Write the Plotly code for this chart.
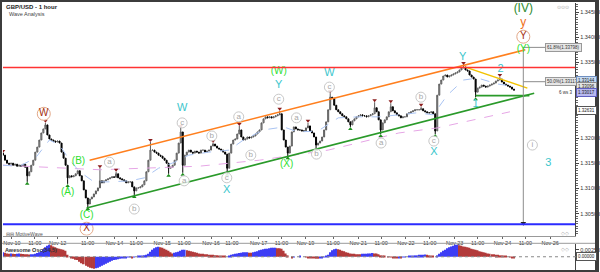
import plotly.graph_objects as go

# ---------------- data ----------------
closes = [
    1.3166, 1.3156, 1.3150, 1.3148, 1.3150, 1.3146, 1.3148, 1.3144, 1.3146, 1.3144,
    1.3148, 1.3142, 1.3125, 1.3133, 1.3146, 1.3156, 1.3172, 1.3182, 1.3196, 1.3210,
    1.3218, 1.3226, 1.3206, 1.3198, 1.3196, 1.3194, 1.3192, 1.3194, 1.3190, 1.3172,
    1.3160, 1.3146, 1.3121, 1.3125, 1.3123, 1.3125, 1.3129, 1.3135, 1.3125, 1.3115,
    1.3097, 1.3081, 1.3069, 1.3079, 1.3083, 1.3089, 1.3095, 1.3101, 1.3115, 1.3111,
    1.3115, 1.3117, 1.3119, 1.3121, 1.3123, 1.3122, 1.3129, 1.3121, 1.3119, 1.3117,
    1.3115, 1.3111, 1.3113, 1.3113, 1.3103, 1.3095, 1.3101, 1.3101, 1.3103, 1.3107,
    1.3115, 1.3133, 1.3156, 1.3176, 1.3176, 1.3172, 1.3170, 1.3166, 1.3164, 1.3160,
    1.3156, 1.3150, 1.3140, 1.3142, 1.3146, 1.3156, 1.3170, 1.3190, 1.3212, 1.3146,
    1.3166, 1.3172, 1.3176, 1.3172, 1.3170, 1.3174, 1.3172, 1.3170, 1.3176, 1.3176,
    1.3172, 1.3174, 1.3176, 1.3184, 1.3188, 1.3184, 1.3180, 1.3178, 1.3176, 1.3172,
    1.3168, 1.3140, 1.3170, 1.3188, 1.3196, 1.3198, 1.3208, 1.3216, 1.3202, 1.3196,
    1.3198, 1.3202, 1.3200, 1.3202, 1.3204, 1.3208, 1.3212, 1.3216, 1.3230, 1.3238,
    1.3242, 1.3240, 1.3242, 1.3240, 1.3242, 1.3244, 1.3246, 1.3248, 1.3216, 1.3196,
    1.3182, 1.3170, 1.3184, 1.3212, 1.3222, 1.3218, 1.3216, 1.3216, 1.3214, 1.3214,
    1.3220, 1.3224, 1.3214, 1.3210, 1.3202, 1.3186, 1.3190, 1.3194, 1.3202, 1.3216,
    1.3232, 1.3256, 1.3281, 1.3279, 1.3265, 1.3256, 1.3252, 1.3248, 1.3244, 1.3242,
    1.3238, 1.3232, 1.3226, 1.3234, 1.3238, 1.3242, 1.3244, 1.3246, 1.3244, 1.3244,
    1.3242, 1.3244, 1.3246, 1.3248, 1.3260, 1.3252, 1.3236, 1.3216, 1.3230, 1.3236,
    1.3242, 1.3252, 1.3262, 1.3254, 1.3250, 1.3246, 1.3244, 1.3240, 1.3242, 1.3242,
    1.3248, 1.3250, 1.3252, 1.3254, 1.3256, 1.3256, 1.3256, 1.3258, 1.3254, 1.3252,
    1.3250, 1.3250, 1.3252, 1.3248, 1.3214, 1.3285, 1.3307, 1.3315, 1.3323, 1.3325,
    1.3321, 1.3323, 1.3325, 1.3327, 1.3329, 1.3331, 1.3335, 1.3339, 1.3341, 1.3335,
    1.3333, 1.3325, 1.3321, 1.3317, 1.3291, 1.3299, 1.3301, 1.3305, 1.3303, 1.3301,
    1.3303, 1.3305, 1.3307, 1.3309, 1.3313, 1.3315, 1.3317, 1.3311, 1.3307, 1.3305,
    1.3303, 1.3301, 1.3297, 1.3295,
]
first_open = 1.3170

pivot_highs = {0: 1.3170, 21: 1.3230, 48: 1.3140, 56: 1.3133, 73: 1.3192, 88: 1.3220,
               104: 1.3190, 117: 1.3224, 137: 1.3254, 151: 1.3230, 162: 1.3289,
               184: 1.3271, 192: 1.3269, 207: 1.3262, 228: 1.3345, 246: 1.3321}
pivot_lows = {12: 1.3113, 32: 1.3109, 42: 1.3063, 65: 1.3087, 82: 1.3129, 89: 1.3131,
              111: 1.3131, 141: 1.3164, 155: 1.3180, 172: 1.3222, 187: 1.3208,
              214: 1.3208, 234: 1.3281}

ao = [
    0.0016, 0.0014, 0.0012, 0.0011, 0.0012, 0.0011, 0.0010, 0.0011, 0.0012, 0.0011,
    0.0010, 0.0009, 0.0009, 0.0008, 0.0009, 0.0009, 0.0011, 0.0013, 0.0016, 0.0020,
    0.0027, 0.0034, 0.0039, 0.0043, 0.0041, 0.0037, 0.0034, 0.0030, 0.0029, 0.0027,
    0.0025, 0.0021, 0.0007, 0.0000, -0.0004, -0.0007, -0.0011, -0.0012, -0.0018, -0.0023,
    -0.0027, -0.0032, -0.0036, -0.0039, -0.0041, -0.0043, -0.0041, -0.0039, -0.0036, -0.0032,
    -0.0029, -0.0025, -0.0021, -0.0018, -0.0014, -0.0012, -0.0011, -0.0009, -0.0007, -0.0005,
    -0.0004, -0.0004, -0.0002, -0.0002, -0.0003, -0.0002, 0.0000, 0.0002, 0.0002, 0.0004,
    0.0005, 0.0007, 0.0011, 0.0018, 0.0025, 0.0030, 0.0034, 0.0036, 0.0034, 0.0032,
    0.0029, 0.0025, 0.0021, 0.0016, 0.0012, 0.0014, 0.0016, 0.0018, 0.0021, 0.0025,
    0.0025, 0.0023, 0.0021, 0.0020, 0.0018, 0.0016, 0.0014, 0.0012, 0.0011, 0.0011,
    0.0009, 0.0009, 0.0007, 0.0007, 0.0007, 0.0005, 0.0005, 0.0004, 0.0004, 0.0002,
    0.0002, 0.0000, 0.0004, 0.0007, 0.0009, 0.0011, 0.0012, 0.0013, 0.0014, 0.0016,
    0.0016, 0.0016, 0.0014, 0.0014, 0.0016, 0.0018, 0.0020, 0.0023, 0.0025, 0.0027,
    0.0029, 0.0029, 0.0030, 0.0032, 0.0032, 0.0032, 0.0030, 0.0030, 0.0029, 0.0021,
    0.0012, 0.0005, 0.0000, -0.0004, -0.0002, 0.0000, 0.0000, 0.0002, 0.0000, 0.0000,
    -0.0002, -0.0004, -0.0004, -0.0005, -0.0005, -0.0007, -0.0007, -0.0005, -0.0004, -0.0002,
    0.0002, 0.0007, 0.0016, 0.0023, 0.0027, 0.0029, 0.0027, 0.0025, 0.0021, 0.0020,
    0.0016, 0.0014, 0.0012, 0.0011, 0.0011, 0.0009, 0.0009, 0.0009, 0.0011, 0.0011,
    0.0011, 0.0012, 0.0012, 0.0013, 0.0012, 0.0012, 0.0009, 0.0005, 0.0004, 0.0002,
    0.0000, -0.0002, -0.0002, -0.0004, -0.0004, -0.0004, -0.0003, -0.0004, -0.0002, -0.0002,
    0.0000, 0.0002, 0.0004, 0.0004, 0.0005, 0.0005, 0.0007, 0.0007, 0.0007, 0.0008,
    0.0007, 0.0005, 0.0004, 0.0002, 0.0000, 0.0005, 0.0011, 0.0016, 0.0021, 0.0025,
    0.0030, 0.0034, 0.0037, 0.0039, 0.0043, 0.0043, 0.0041, 0.0039, 0.0037, 0.0036,
    0.0034, 0.0032, 0.0029, 0.0027, 0.0025, 0.0023, 0.0020, 0.0018, 0.0016, 0.0014,
    0.0012, 0.0011, 0.0009, 0.0009, 0.0007, 0.0007, 0.0005, 0.0005, 0.0004, 0.0002,
    0.0000, -0.0002, -0.0004, -0.0005,
]

tick_pos = [4.4, 15.8, 27.1, 41.9, 55.2, 66.0, 78.8, 89.7, 103.0, 113.3, 126.6, 137.9,
            149.8, 163.5, 175.9, 187.2, 199.5, 211.3, 223.6, 235.0, 247.3, 258.6, 270.9]
tick_text = ["Nov 10", "11:00", "Nov 12", "11:00", "Nov 14", "11:00", "Nov 15", "11:00",
             "Nov 16", "11:00", "Nov 17", "11:00", "Nov 19", "11:00", "Nov 21", "11:00",
             "Nov 22", "11:00", "Nov 23", "11:00", "Nov 24", "11:00", "Nov 26"]

price_tick_vals = [1.305, 1.310, 1.315, 1.320, 1.325, 1.330, 1.335, 1.340, 1.345]
# 1.32500 and 1.33000 are covered by the price boxes in the reference
price_tick_text = ["1.30500", "1.31000", "1.31500", "1.32000", "", "", "1.33500", "1.34000", "1.34500"]

# moving averages (sparse readings)
ma_fast_x = [0, 8, 16, 23, 28, 33, 38, 45, 53, 63, 70, 77, 85, 92, 102, 112, 119, 129, 139,
             146, 156, 166, 176, 186, 196, 205, 213, 220, 228, 235, 245, 252]
ma_fast_y = [1.3146, 1.3144, 1.3160, 1.3196, 1.3186, 1.3156, 1.3133, 1.3113, 1.3113, 1.3115,
             1.3121, 1.3140, 1.3152, 1.3166, 1.3172, 1.3176, 1.3196, 1.3216, 1.3222, 1.3212,
             1.3214, 1.3240, 1.3242, 1.3242, 1.3246, 1.3250, 1.3246, 1.3285, 1.3315, 1.3319,
             1.3307, 1.3303]
ma_slow_x = [0, 48, 97, 127, 161, 196, 215, 251]
ma_slow_y = [1.3146, 1.3137, 1.3144, 1.3156, 1.3176, 1.3210, 1.3220, 1.3252]

# wave structure lines
orange_x, orange_y = [42.9, 258.6], [1.3156, 1.3375]
green_x, green_y = [41.4, 263.0], [1.3061, 1.3289]
wave1_x, wave1_y = [234.0, 260.6], [1.3284, 1.3284]
yellow_x, yellow_y = [228.6, 259.6], [1.3341, 1.3299]
red_level = 1.3340
blue_level = 1.3029
proj_x, proj_top, proj_bottom = 257.6, 1.33798, 1.3031
fib_levels = [1.33798, 1.33117]
fib_text = ["61.8%(1.33798)", "50.0%(1.33117)"]
fib_end = 268.5

grey_labels = [(52.7, 1.3152, "a"), (65.0, 1.3059, "b"), (88.7, 1.3230, "c"), (89.7, 1.3115, "a"),
               (103.4, 1.3204, "b"), (110.8, 1.3121, "c"), (116.7, 1.3242, "a"), (122.7, 1.3166, "b"),
               (136.5, 1.3277, "c"), (145.3, 1.3240, "a"), (155.2, 1.3168, "b"), (161.6, 1.3301, "c"),
               (187.2, 1.3190, "a"), (206.9, 1.3281, "b"), (213.3, 1.3194, "c"), (262.1, 1.3186, "i")]
cyan_labels = [(88.7, 1.3260, "W"), (110.8, 1.3096, "X"), (136.5, 1.3304, "Y"), (161.6, 1.3329, "W"),
               (213.3, 1.3171, "X"), (227.6, 1.3360, "Y"), (234.0, 1.3266, "1"), (246.3, 1.3337, "2"),
               (270.0, 1.3150, "3")]
green_labels = [(32.0, 1.3092, "(A)"), (37.4, 1.3154, "(B)"), (41.4, 1.3047, "(C)"),
                (136.5, 1.3332, "(W)"), (140.4, 1.3148, "(X)"), (257.6, 1.3375, "(Y)")]
brown_labels = [(20.2, 1.3248, "W"), (41.4, 1.3020, "X"), (257.6, 1.3401, "Y")]
top_labels = [(257.6, 1.3455, "(IV)", "#2e8b2e"), (257.6, 1.3428, "y", "#f07020")]

price_boxes = [(1.3315, "1.33144", "#c6daf2", "#6f8fc0"), (1.3303, "1.33096", "#e4e4e4", "#888888"),
               (1.3290, "1.33017", "#b8b8f0", "#6060c0"), (1.3254, "1.32631", "#ffffff", "#555555")]

# ---------------- build ----------------
n = len(closes)
idx = list(range(n))
opens = [first_open] + closes[:-1]
highs = [max(o, c) for o, c in zip(opens, closes)]
lows = [min(o, c) for o, c in zip(opens, closes)]
for k, v in pivot_highs.items():
    highs[k] = max(highs[k], v)
for k, v in pivot_lows.items():
    lows[k] = min(lows[k], v)

H = 272.0
W = 600.0
MARK_GAP = 0.0004  # visual gap between wick tip and pivot marker


def fy(px):
    return 1 - px / H


FONT = "Liberation Sans, Arial, sans-serif"
fig = go.Figure()


def line_trace(x, y, color, width=1.0, dash=None, xa="x", ya="y"):
    fig.add_trace(go.Scatter(x=x, y=y, mode="lines", xaxis=xa, yaxis=ya, hoverinfo="skip",
                             showlegend=False, line=dict(color=color, width=width, dash=dash)))


line_trace(ma_slow_x, ma_slow_y, "#e6a6e6", 1, "dash")
line_trace(ma_fast_x, ma_fast_y, "#a9c3f2", 1, "dash")

fig.add_trace(go.Candlestick(
    x=idx, open=opens, high=highs, low=lows, close=closes,
    increasing=dict(line=dict(color="#5a5a5a", width=1), fillcolor="#d4d4d4"),
    decreasing=dict(line=dict(color="#000000", width=1), fillcolor="#000000"),
    whiskerwidth=0, showlegend=False, hoverinfo="skip"))

line_trace(orange_x, orange_y, "#ff7f1e", 1.6)
line_trace(green_x, green_y, "#2a9a2a", 1.6)
line_trace(wave1_x, wave1_y, "#2a9a2a", 1.6)
line_trace(yellow_x, yellow_y, "#f2c200", 1.4)
line_trace([proj_x, proj_x], [proj_top, proj_bottom], "#8c8c8c", 1)
for lv in fib_levels:
    line_trace([proj_x, fib_end], [lv, lv], "#8c8c8c", 1)
fig.add_trace(go.Scatter(x=[proj_x], y=[proj_bottom], mode="markers", hoverinfo="skip", showlegend=False,
                         marker=dict(symbol="triangle-down", size=5, color="#222222")))

# pivot markers (small triangles just beyond the wick tips)
fig.add_trace(go.Scatter(x=list(pivot_highs.keys()), y=[highs[k] + MARK_GAP for k in pivot_highs],
                         mode="markers", marker=dict(symbol="triangle-down", size=4, color="#8b1c1c"),
                         hoverinfo="skip", showlegend=False))
fig.add_trace(go.Scatter(x=list(pivot_lows.keys()), y=[lows[k] - MARK_GAP for k in pivot_lows],
                         mode="markers", marker=dict(symbol="triangle-up", size=4, color="#1f8f1f"),
                         hoverinfo="skip", showlegend=False))

# circled labels
fig.add_trace(go.Scatter(x=[l[0] for l in grey_labels], y=[l[1] for l in grey_labels],
                         text=[l[2] for l in grey_labels], mode="markers+text", textposition="middle center",
                         marker=dict(size=10, color="rgba(255,255,255,0.85)", line=dict(color="#c8c8c8", width=1)),
                         textfont=dict(size=8, color="#a8a8a8", family=FONT), hoverinfo="skip", showlegend=False))
fig.add_trace(go.Scatter(x=[l[0] for l in brown_labels], y=[l[1] for l in brown_labels],
                         text=[l[2] for l in brown_labels], mode="markers+text", textposition="middle center",
                         marker=dict(size=13, color="rgba(255,255,255,0.9)", line=dict(color="#e3a888", width=1)),
                         textfont=dict(size=10, color="#a3300f", family=FONT), hoverinfo="skip", showlegend=False))
fig.add_trace(go.Scatter(x=[l[0] for l in cyan_labels], y=[l[1] for l in cyan_labels],
                         text=[l[2] for l in cyan_labels], mode="text", textposition="middle center",
                         textfont=dict(size=11, color="#3cc6cc", family=FONT), hoverinfo="skip", showlegend=False))
fig.add_trace(go.Scatter(x=[l[0] for l in green_labels], y=[l[1] for l in green_labels],
                         text=[l[2] for l in green_labels], mode="text", textposition="middle center",
                         textfont=dict(size=10, color="#2fe02f", family=FONT), hoverinfo="skip", showlegend=False))
for x, y, t, c in top_labels:
    fig.add_trace(go.Scatter(x=[x], y=[y], text=[t], mode="text", textposition="middle center",
                             textfont=dict(size=12, color=c, family=FONT), hoverinfo="skip", showlegend=False))

# Awesome oscillator
blue, red = "#3d3df5", "#b23a3a"
ao_colors = []
for k, v in enumerate(ao):
    if k == 0 or v > ao[k - 1]:
        col = blue
    elif v < ao[k - 1]:
        col = red
    else:
        col = ao_colors[-1]
    ao_colors.append(col)
fig.add_trace(go.Bar(x=idx, y=ao, xaxis="x2", yaxis="y2", width=0.8,
                     marker=dict(color=ao_colors, line=dict(width=0)), hoverinfo="skip", showlegend=False))

xdom = [3 / W, 578 / W]
tick_font = dict(size=5.5, color="#333333", family=FONT)
fig.update_layout(
    width=600, height=272, margin=dict(l=0, r=0, t=0, b=0),
    paper_bgcolor="white", plot_bgcolor="white", hovermode=False,
    font=dict(family=FONT),
    xaxis=dict(domain=xdom, range=[0, 283.25], tickvals=tick_pos, ticktext=tick_text,
               ticks="outside", ticklen=2, tickcolor="#666", tickfont=tick_font,
               showline=True, linecolor="#999999", linewidth=1, showgrid=False, zeroline=False,
               anchor="y", rangeslider=dict(visible=False), fixedrange=True),
    yaxis=dict(domain=[fy(235.5), fy(3)], range=[1.300655, 1.346786], side="right",
               tickvals=price_tick_vals, ticktext=price_tick_text,
               ticks="outside", ticklen=3, tickcolor="#444", tickfont=tick_font,
               minor=dict(ticks="outside", ticklen=1.5, dtick=0.0005, tickcolor="#666"),
               showline=True, linecolor="#444444", linewidth=1, showgrid=False, zeroline=False,
               anchor="x"),
    xaxis2=dict(domain=xdom, range=[0, 283.25], matches="x", anchor="y2", showticklabels=False,
                showgrid=False, zeroline=False, showline=False),
    yaxis2=dict(domain=[fy(270), fy(243.5)], range=[-0.00473, 0.00473], side="right",
                tickvals=[0.0025], ticktext=["0.00250"], ticks="outside", ticklen=3,
                tickfont=tick_font, showline=True, linecolor="#444444", linewidth=1,
                showgrid=False, zeroline=False, anchor="x2"),
)

shapes = [
    dict(type="line", xref="x domain", yref="y", x0=0, x1=1, y0=red_level, y1=red_level,
         line=dict(color="#ff3333", width=1.6)),
    dict(type="line", xref="x domain", yref="y", x0=0, x1=1, y0=blue_level, y1=blue_level,
         line=dict(color="#2b2bff", width=2)),
    dict(type="line", xref="paper", yref="y2", x0=3 / W, x1=592 / W, y0=0, y1=0,
         line=dict(color="#888888", width=1, dash="dot")),
    dict(type="line", xref="paper", yref="paper", x0=0, x1=1, y0=fy(243.3), y1=fy(243.3),
         line=dict(color="#9a9a9a", width=1)),
    dict(type="rect", xref="paper", yref="paper", x0=0, x1=1, y0=0, y1=1,
         line=dict(color="#3c3c3c", width=4)),
]
fig.update_layout(shapes=shapes)

ann = [
    dict(xref="paper", yref="paper", x=4 / W, y=fy(2), xanchor="left", yanchor="top",
         text="<b>GBP/USD - 1 hour</b>", showarrow=False, font=dict(size=6, color="#222")),
    dict(xref="paper", yref="paper", x=7 / W, y=fy(9), xanchor="left", yanchor="top",
         text="Wave Analysis", showarrow=False, font=dict(size=5.5, color="#444")),
    dict(xref="paper", yref="paper", x=4 / W, y=fy(229), xanchor="left", yanchor="top",
         text="\u229f\u229f MotiveWave", showarrow=False, font=dict(size=5, color="#555")),
    dict(xref="paper", yref="paper", x=3 / W, y=fy(244.5), xanchor="left", yanchor="top",
         text="<b>Awesome Osc(34,5)</b>", showarrow=False, font=dict(size=5.5, color="#333")),
    dict(xref="paper", yref="paper", x=574 / W, y=fy(2), xanchor="right", yanchor="top",
         text="\u2299\u2299\u2299", showarrow=False, font=dict(size=5, color="#aaa")),
    dict(xref="paper", yref="paper", x=574 / W, y=fy(228), xanchor="right", yanchor="top",
         text="\u25c7\u25c7", showarrow=False, font=dict(size=5, color="#aaa")),
    dict(xref="paper", yref="paper", x=574 / W, y=fy(243.5), xanchor="right", yanchor="top",
         text="\u25c7\u25c7", showarrow=False, font=dict(size=5, color="#aaa")),
    dict(xref="paper", yref="y", x=569 / W, y=1.3300, xanchor="center", yanchor="top",
         text="6 ws 3", showarrow=False, font=dict(size=4.5, color="#333")),
]
for lv, t in zip(fib_levels, fib_text):
    ann.append(dict(xref="x", yref="y", x=fib_end, y=lv, xanchor="left", yanchor="middle", text=t,
                    showarrow=False, font=dict(size=4.5, color="#333"), bgcolor="#e6e6e6",
                    bordercolor="#999999", borderwidth=1, borderpad=1))
for lv, t, bg, bc in price_boxes:
    ann.append(dict(xref="paper", yref="y", x=579 / W, y=lv, xanchor="left", yanchor="middle", text=t,
                    showarrow=False, font=dict(size=4.5, color="#222"), bgcolor=bg,
                    bordercolor=bc, borderwidth=1, borderpad=1))
ann.append(dict(xref="paper", yref="y2", x=579 / W, y=0, xanchor="left", yanchor="middle", text="0.00000",
                showarrow=False, font=dict(size=4.5, color="#222"), bgcolor="#ffffff",
                bordercolor="#555", borderwidth=1, borderpad=1))
fig.update_layout(annotations=ann)

fig.write_html("out.html")
